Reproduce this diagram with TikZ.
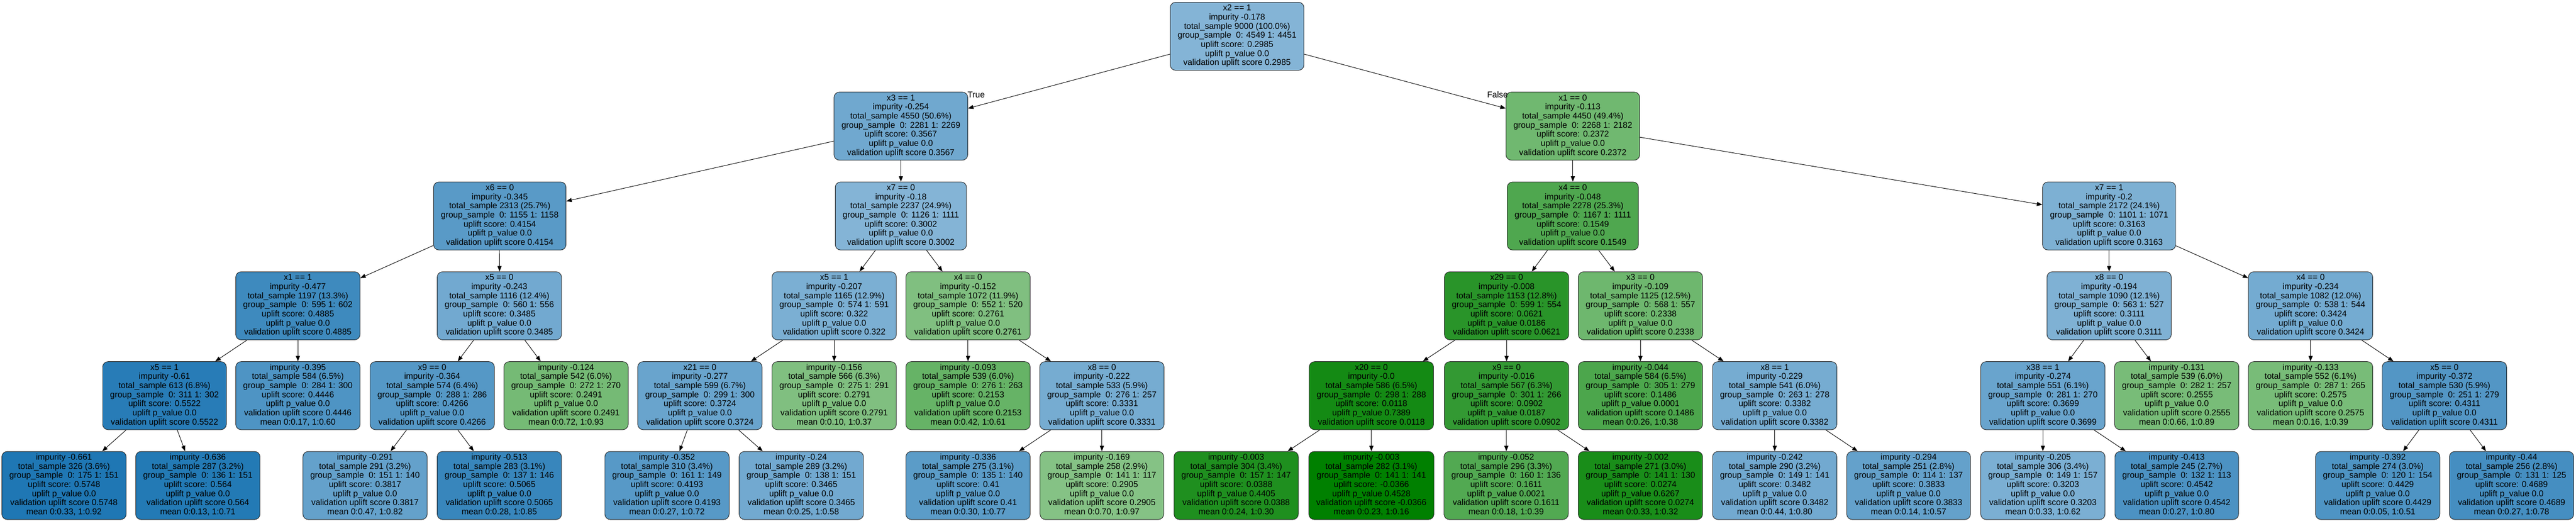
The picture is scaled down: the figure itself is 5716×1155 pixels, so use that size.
\documentclass[tikz,border=0pt]{standalone}
\usepackage{fontspec}
\setmainfont{Liberation Sans}
\usetikzlibrary{arrows.meta}
\definecolor{tb}{RGB}{31,119,180}
\definecolor{tg}{RGB}{0,128,0}
\newcommand{\tnint}[6]{\strut #1\\impurity #2\\total\_sample #3\\group\_sample\ \ #4\\uplift score: #5\\uplift p\_value #6\\validation uplift score #5\strut}
\newcommand{\tnleaf}[6]{\strut impurity #1\\total\_sample #2\\group\_sample\ \ #3\\uplift score: #4\\uplift p\_value #5\\validation uplift score #4\\mean #6\strut}
\tikzset{
  treebox/.style={draw=black!85, line width=1.1pt, rounded corners=12pt, align=center,
    minimum height=151pt, inner xsep=16.5pt, inner ysep=0pt,
    font=\fontsize{18.8pt}{20.2pt}\selectfont},
  bl/.style={treebox, fill=tb!#1},
  gr/.style={treebox, fill=tg!#1},
  conn/.style={-{Triangle[length=12pt,width=9pt]}, line width=1.1pt, black},
  elabel/.style={inner sep=0pt, font=\fontsize{18.8pt}{20.2pt}\selectfont}
}
\begin{document}
\begin{tikzpicture}[x=1pt,y=1pt]
\fill[white] (0,0) rectangle (5716,-1155);
\useasboundingbox (0,0) rectangle (5716,-1155);
% level 0
\node[bl=55] (n0) at (2745,-80.5) {\tnint{x2 == 1}{-0.178}{9000 (100.0\%)}{0: 4549 1: 4451}{0.2985}{0.0}};
% level 1
\node[bl=64] (a1) at (1999,-279.8) {\tnint{x3 == 1}{-0.254}{4550 (50.6\%)}{0: 2281 1: 2269}{0.3567}{0.0}};
\node[gr=56] (a2) at (3490,-279.8) {\tnint{x1 == 0}{-0.113}{4450 (49.4\%)}{0: 2268 1: 2182}{0.2372}{0.0}};
% level 2
\node[bl=74] (b1) at (1109,-479.1) {\tnint{x6 == 0}{-0.345}{2313 (25.7\%)}{0: 1155 1: 1158}{0.4154}{0.0}};
\node[bl=55] (b2) at (1999,-479.1) {\tnint{x7 == 0}{-0.18}{2237 (24.9\%)}{0: 1126 1: 1111}{0.3002}{0.0}};
\node[gr=69] (b3) at (3490,-479.1) {\tnint{x4 == 0}{-0.048}{2278 (25.3\%)}{0: 1167 1: 1111}{0.1549}{0.0}};
\node[bl=58] (b4) at (4680,-479.1) {\tnint{x7 == 1}{-0.2}{2172 (24.1\%)}{0: 1101 1: 1071}{0.3163}{0.0}};
% level 3
\node[bl=86] (c1) at (661,-678.4) {\tnint{x1 == 1}{-0.477}{1197 (13.3\%)}{0: 595 1: 602}{0.4885}{0.0}};
\node[bl=63] (c2) at (1108,-678.4) {\tnint{x5 == 0}{-0.243}{1116 (12.4\%)}{0: 560 1: 556}{0.3485}{0.0}};
\node[bl=59] (c3) at (1851,-678.4) {\tnint{x5 == 1}{-0.207}{1165 (12.9\%)}{0: 574 1: 591}{0.322}{0.0}};
\node[gr=50] (c4) at (2148,-678.4) {\tnint{x4 == 0}{-0.152}{1072 (11.9\%)}{0: 552 1: 520}{0.2761}{0.0}};
\node[gr=84] (c5) at (3343,-678.4) {\tnint{x29 == 0}{-0.008}{1153 (12.8\%)}{0: 599 1: 554}{0.0621}{0.0186}};
\node[gr=57] (c6) at (3640,-678.4) {\tnint{x3 == 0}{-0.109}{1125 (12.5\%)}{0: 568 1: 557}{0.2338}{0.0}};
\node[bl=57] (c7) at (4680,-678.4) {\tnint{x8 == 0}{-0.194}{1090 (12.1\%)}{0: 563 1: 527}{0.3111}{0.0}};
\node[bl=62] (c8) at (5127,-678.4) {\tnint{x4 == 0}{-0.234}{1082 (12.0\%)}{0: 538 1: 544}{0.3424}{0.0}};
% level 4
\node[bl=96] (d1) at (365,-877.7) {\tnint{x5 == 1}{-0.61}{613 (6.8\%)}{0: 311 1: 302}{0.5522}{0.0}};
\node[bl=79] (d2) at (661,-877.7) {\tnleaf{-0.395}{584 (6.5\%)}{0: 284 1: 300}{0.4446}{0.0}{0:0.17, 1:0.60}};
\node[bl=76] (d3) at (959,-877.7) {\tnint{x9 == 0}{-0.364}{574 (6.4\%)}{0: 288 1: 286}{0.4266}{0.0}};
\node[gr=54] (d4) at (1256,-877.7) {\tnleaf{-0.124}{542 (6.0\%)}{0: 272 1: 270}{0.2491}{0.0}{0:0.72, 1:0.93}};
\node[bl=67] (d5) at (1553,-877.7) {\tnint{x21 == 0}{-0.277}{599 (6.7\%)}{0: 299 1: 300}{0.3724}{0.0}};
\node[gr=50] (d6) at (1851,-877.7) {\tnleaf{-0.156}{566 (6.3\%)}{0: 275 1: 291}{0.2791}{0.0}{0:0.10, 1:0.37}};
\node[gr=60] (d7) at (2148,-877.7) {\tnleaf{-0.093}{539 (6.0\%)}{0: 276 1: 263}{0.2153}{0.0}{0:0.42, 1:0.61}};
\node[bl=61] (d8) at (2445,-877.7) {\tnint{x8 == 0}{-0.222}{533 (5.9\%)}{0: 276 1: 257}{0.3331}{0.0}};
\node[gr=92] (d9) at (3043,-877.7) {\tnint{x20 == 0}{-0.0}{586 (6.5\%)}{0: 298 1: 288}{0.0118}{0.7389}};
\node[gr=80] (d10) at (3343,-877.7) {\tnint{x9 == 0}{-0.016}{567 (6.3\%)}{0: 301 1: 266}{0.0902}{0.0187}};
\node[gr=70] (d11) at (3640,-877.7) {\tnleaf{-0.044}{584 (6.5\%)}{0: 305 1: 279}{0.1486}{0.0001}{0:0.26, 1:0.38}};
\node[bl=61] (d12) at (3938,-877.7) {\tnint{x8 == 1}{-0.229}{541 (6.0\%)}{0: 263 1: 278}{0.3382}{0.0}};
\node[bl=67] (d13) at (4533,-877.7) {\tnint{x38 == 1}{-0.274}{551 (6.1\%)}{0: 281 1: 270}{0.3699}{0.0}};
\node[gr=53] (d14) at (4830,-877.7) {\tnleaf{-0.131}{539 (6.0\%)}{0: 282 1: 257}{0.2555}{0.0}{0:0.66, 1:0.89}};
\node[gr=53] (d15) at (5127,-877.7) {\tnleaf{-0.133}{552 (6.1\%)}{0: 287 1: 265}{0.2575}{0.0}{0:0.16, 1:0.39}};
\node[bl=77] (d16) at (5424,-877.7) {\tnint{x5 == 0}{-0.372}{530 (5.9\%)}{0: 251 1: 279}{0.4311}{0.0}};
% level 5
\node[bl=100] (e1) at (142,-1077) {\tnleaf{-0.661}{326 (3.6\%)}{0: 175 1: 151}{0.5748}{0.0}{0:0.33, 1:0.92}};
\node[bl=98] (e2) at (439,-1077) {\tnleaf{-0.636}{287 (3.2\%)}{0: 136 1: 151}{0.564}{0.0}{0:0.13, 1:0.71}};
\node[bl=69] (e3) at (810,-1077) {\tnleaf{-0.291}{291 (3.2\%)}{0: 151 1: 140}{0.3817}{0.0}{0:0.47, 1:0.82}};
\node[bl=89] (e4) at (1108,-1077) {\tnleaf{-0.513}{283 (3.1\%)}{0: 137 1: 146}{0.5065}{0.0}{0:0.28, 1:0.85}};
\node[bl=75] (e5) at (1480,-1077) {\tnleaf{-0.352}{310 (3.4\%)}{0: 161 1: 149}{0.4193}{0.0}{0:0.27, 1:0.72}};
\node[bl=63] (e6) at (1778,-1077) {\tnleaf{-0.24}{289 (3.2\%)}{0: 138 1: 151}{0.3465}{0.0}{0:0.25, 1:0.58}};
\node[bl=73] (e7) at (2148,-1077) {\tnleaf{-0.336}{275 (3.1\%)}{0: 135 1: 140}{0.41}{0.0}{0:0.30, 1:0.77}};
\node[gr=48] (e8) at (2445,-1077) {\tnleaf{-0.169}{258 (2.9\%)}{0: 141 1: 117}{0.2905}{0.0}{0:0.70, 1:0.97}};
\node[gr=88] (e9) at (2743,-1077) {\tnleaf{-0.003}{304 (3.4\%)}{0: 157 1: 147}{0.0388}{0.4405}{0:0.24, 1:0.30}};
\node[gr=100] (e10) at (3043,-1077) {\tnleaf{-0.003}{282 (3.1\%)}{0: 141 1: 141}{-0.0366}{0.4528}{0:0.23, 1:0.16}};
\node[gr=68] (e11) at (3342,-1077) {\tnleaf{-0.052}{296 (3.3\%)}{0: 160 1: 136}{0.1611}{0.0021}{0:0.18, 1:0.39}};
\node[gr=90] (e12) at (3640,-1077) {\tnleaf{-0.002}{271 (3.0\%)}{0: 141 1: 130}{0.0274}{0.6267}{0:0.33, 1:0.32}};
\node[bl=63] (e13) at (3938,-1077) {\tnleaf{-0.242}{290 (3.2\%)}{0: 149 1: 141}{0.3482}{0.0}{0:0.44, 1:0.80}};
\node[bl=69] (e14) at (4235,-1077) {\tnleaf{-0.294}{251 (2.8\%)}{0: 114 1: 137}{0.3833}{0.0}{0:0.14, 1:0.57}};
\node[bl=59] (e15) at (4533,-1077) {\tnleaf{-0.205}{306 (3.4\%)}{0: 149 1: 157}{0.3203}{0.0}{0:0.33, 1:0.62}};
\node[bl=80] (e16) at (4830,-1077) {\tnleaf{-0.413}{245 (2.7\%)}{0: 132 1: 113}{0.4542}{0.0}{0:0.27, 1:0.80}};
\node[bl=79] (e17) at (5276,-1077) {\tnleaf{-0.392}{274 (3.0\%)}{0: 120 1: 154}{0.4429}{0.0}{0:0.05, 1:0.51}};
\node[bl=83] (e18) at (5573,-1077) {\tnleaf{-0.44}{256 (2.8\%)}{0: 131 1: 125}{0.4689}{0.0}{0:0.27, 1:0.78}};
% edges
\draw[conn] (n0) -- (a1);
\draw[conn] (n0) -- (a2);
\draw[conn] (a1) -- (b1);
\draw[conn] (a1) -- (b2);
\draw[conn] (a2) -- (b3);
\draw[conn] (a2) -- (b4);
\draw[conn] (b1) -- (c1);
\draw[conn] (b1) -- (c2);
\draw[conn] (b2) -- (c3);
\draw[conn] (b2) -- (c4);
\draw[conn] (b3) -- (c5);
\draw[conn] (b3) -- (c6);
\draw[conn] (b4) -- (c7);
\draw[conn] (b4) -- (c8);
\draw[conn] (c1) -- (d1);
\draw[conn] (c1) -- (d2);
\draw[conn] (c2) -- (d3);
\draw[conn] (c2) -- (d4);
\draw[conn] (c3) -- (d5);
\draw[conn] (c3) -- (d6);
\draw[conn] (c4) -- (d7);
\draw[conn] (c4) -- (d8);
\draw[conn] (c5) -- (d9);
\draw[conn] (c5) -- (d10);
\draw[conn] (c6) -- (d11);
\draw[conn] (c6) -- (d12);
\draw[conn] (c7) -- (d13);
\draw[conn] (c7) -- (d14);
\draw[conn] (c8) -- (d15);
\draw[conn] (c8) -- (d16);
\draw[conn] (d1) -- (e1);
\draw[conn] (d1) -- (e2);
\draw[conn] (d3) -- (e3);
\draw[conn] (d3) -- (e4);
\draw[conn] (d5) -- (e5);
\draw[conn] (d5) -- (e6);
\draw[conn] (d8) -- (e7);
\draw[conn] (d8) -- (e8);
\draw[conn] (d9) -- (e9);
\draw[conn] (d9) -- (e10);
\draw[conn] (d10) -- (e11);
\draw[conn] (d10) -- (e12);
\draw[conn] (d12) -- (e13);
\draw[conn] (d12) -- (e14);
\draw[conn] (d13) -- (e15);
\draw[conn] (d13) -- (e16);
\draw[conn] (d16) -- (e17);
\draw[conn] (d16) -- (e18);
% branch labels
\node[elabel, anchor=west] (ltrue) at ([xshift=-1pt,yshift=-6pt]a1.north east) {True};
\node[elabel, anchor=east] (lfalse) at ([xshift=5pt,yshift=-6pt]a2.north west) {False};
\end{tikzpicture}
\end{document}
